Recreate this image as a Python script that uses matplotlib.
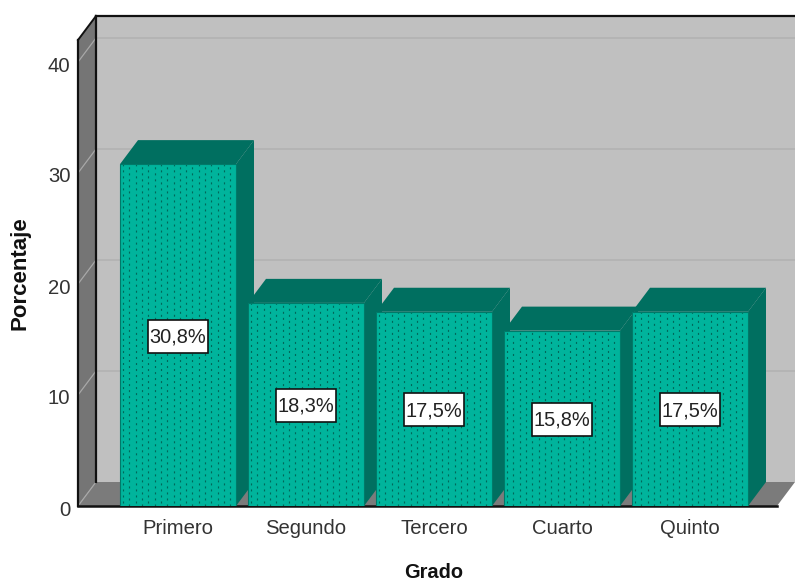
import numpy as np
import matplotlib
matplotlib.use('Agg')
import matplotlib.pyplot as plt
from matplotlib.patches import Polygon, Rectangle
from matplotlib.transforms import ScaledTranslation

# Datos
grados = ['Primero', 'Segundo', 'Tercero', 'Cuarto', 'Quinto']
alturas = [30.8, 18.3, 17.5, 15.8, 17.5]
etiquetas = ['30,8%', '18,3%', '17,5%', '15,8%', '17,5%']
ticks_y = [0, 10, 20, 30, 40]

plt.rcParams['font.family'] = ['Liberation Sans', 'DejaVu Sans']

W, H = 795, 581
fig = plt.figure(figsize=(W / 100, H / 100), dpi=100)
# el eje va desde la esquina frontal hasta el borde superior de la pared
ax = fig.add_axes([78 / W, (H - 506) / H, (W - 78) / W, 490 / H])
px_x = 128.0  # pixeles por categoria
px_y = 11.1   # pixeles por unidad
ax.set_xlim(-100 / px_x, (W - 178) / px_x)
ax.set_ylim(0, 490 / px_y)

# profundidad del efecto 3D
dx = 18 / px_x
dy = 24 / px_y
x0, x1 = ax.get_xlim()
ymax = ax.get_ylim()[1]
x_fin = x1 - dx
tope = ymax - dy

gris_pared = '#c0c0c0'
gris_lado = '#757575'
gris_piso = '#7b7b7b'
verde = '#00b49c'
verde_osc = '#006f60'


def poly(puntos, color, z=1, borde='none', lw=0.0):
    ax.add_patch(Polygon(puntos, closed=True, facecolor=color, edgecolor=borde,
                         linewidth=lw, zorder=z, clip_on=False))


# paredes y piso
poly([(x0 + dx, dy), (x1, dy), (x1, ymax), (x0 + dx, ymax)], gris_pared)
poly([(x0, 0), (x0 + dx, dy), (x0 + dx, ymax), (x0, tope)], gris_lado)
poly([(x0, 0), (x_fin, 0), (x1, dy), (x0 + dx, dy)], gris_piso)

# lineas de rejilla
for v in ticks_y[1:]:
    ax.plot([x0 + dx, x1], [v + dy, v + dy], color='#b4b4b4', lw=1.4, zorder=1.5, clip_on=False)
    ax.plot([x0, x0 + dx], [v, v + dy], color='#a8a8a8', lw=0.9, zorder=1.5, clip_on=False)
ax.plot([x0, x0 + dx], [0, dy], color='#a8a8a8', lw=0.9, zorder=1.5)

# bordes negros
negro = '#111111'
ax.plot([x0 + dx, x0 + dx], [dy, ymax], color=negro, lw=1.6, zorder=2, clip_on=False)
ax.plot([x0 + dx, x1], [ymax, ymax], color=negro, lw=1.6, zorder=2, clip_on=False)
ax.plot([x0, x0 + dx], [tope, ymax], color=negro, lw=1.4, zorder=2, clip_on=False)
ax.plot([x0, x0], [0, tope], color=negro, lw=1.6, zorder=2, clip_on=False)
ax.plot([x0, x_fin], [0, 0], color=negro, lw=1.8, zorder=2, clip_on=False)

# barras
ancho = 116 / px_x
paso = 6.3 / px_x
for i, h in enumerate(alturas):
    z = 3 + i
    a, b = i - ancho / 2, i + ancho / 2
    poly([(a, h), (b, h), (b + dx, h + dy), (a + dx, h + dy)], verde_osc, z)
    poly([(b, 0), (b + dx, dy), (b + dx, h + dy), (b, h)], verde_osc, z)
    ax.add_patch(Rectangle((a, 0), ancho, h, facecolor=verde, edgecolor='none', zorder=z))
    # punteado de la cara frontal
    xs = np.arange(a + paso / 2, b, paso)
    for k, xp in enumerate(xs):
        ax.plot([xp, xp], [0, h], color='#00685a', lw=0.85, zorder=z,
                linestyle=(0 if k % 2 else 2.55, (1.7, 3.4)), dash_capstyle='butt')
    ax.plot([a, a, b, b], [0, h, h, 0], color='#007a69', lw=0.8, zorder=z)

# cajas de porcentaje
caja_w = 60 / px_x
caja_h = 33 / px_y
baja_caja = 1 / px_y
baja_texto = 2 / px_y
for i, (h, e) in enumerate(zip(alturas, etiquetas)):
    ax.add_patch(Rectangle((i - caja_w / 2, h / 2 - baja_caja - caja_h / 2), caja_w, caja_h,
                           facecolor='white', edgecolor='#111111', linewidth=1.2, zorder=19))
    ax.text(i, h / 2 - baja_texto, e, ha='center', va='center', fontsize=14.4, color='#222222', zorder=20)

ax.set_xticks(range(len(grados)))
ax.set_xticklabels(grados)
ax.set_yticks(ticks_y)
ax.tick_params(axis='both', length=0, labelsize=14.6, labelcolor='#333333')
ax.tick_params(axis='x', pad=9)
ax.tick_params(axis='y', pad=5.5)
bajar = ScaledTranslation(0, -2 / 100, fig.dpi_scale_trans)
for t in ax.get_yticklabels():
    t.set_transform(t.get_transform() + bajar)
for lado in ax.spines.values():
    lado.set_visible(False)
ax.patch.set_visible(False)

fig.text(434 / W, 1 - 573 / H, 'Grado', ha='center', va='center', fontsize=14.4, fontweight='bold', color='#111111')
fig.text(20 / W, 1 - 273 / H, 'Porcentaje', ha='center', va='center', rotation=90,
         fontsize=16, fontweight='bold', color='#111111')

fig.savefig('out.png', dpi=100)
